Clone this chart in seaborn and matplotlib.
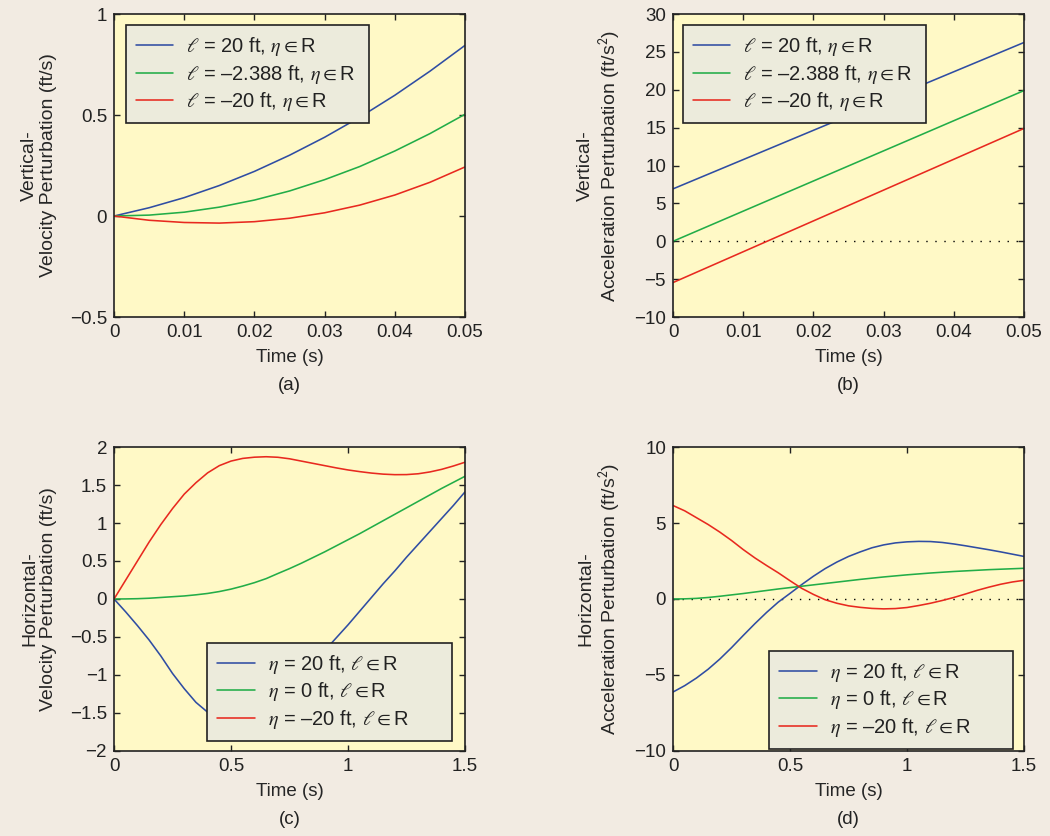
import numpy as np
import pandas as pd
import matplotlib
matplotlib.use("Agg")
import matplotlib.pyplot as plt
import seaborn as sns

# colours
FIG_BG = "#F2EBE2"
AX_BG = "#FFF9C6"
LEG_BG = "#ECEBDC"
LINE_COLORS = ["#2F4DA3", "#22AD48", "#E8291F"]

# (a) vertical velocity perturbation
time_a = [0, 0.005, 0.01, 0.015, 0.02, 0.025, 0.03, 0.035, 0.04, 0.045, 0.05]
vert_vel_pos = [0, 0.041, 0.091, 0.151, 0.221, 0.301, 0.390, 0.489, 0.598, 0.717, 0.845]
vert_vel_mid = [0, 0.0045, 0.019, 0.044, 0.079, 0.124, 0.180, 0.245, 0.322, 0.408, 0.504]
vert_vel_neg = [0, -0.021, -0.032, -0.035, -0.028, -0.011, 0.016, 0.054, 0.104, 0.167, 0.243]

# (b) vertical acceleration perturbation (straight lines)
time_b = [0, 0.05]
vert_acc_pos = [6.92, 26.25]
vert_acc_mid = [0.0, 19.9]
vert_acc_neg = [-5.45, 14.9]

# (c), (d) horizontal perturbations
time_cd = [0, 0.05, 0.1, 0.15, 0.2, 0.25, 0.3, 0.35, 0.4, 0.45, 0.5,
           0.55, 0.6, 0.65, 0.7, 0.75, 0.8, 0.85, 0.9, 0.95, 1.0,
           1.05, 1.1, 1.15, 1.2, 1.25, 1.3, 1.35, 1.4, 1.45, 1.5]
horiz_vel_pos = [0, -0.17, -0.35, -0.54, -0.75, -0.98, -1.18, -1.36, -1.49, -1.56, -1.58,
                 -1.55, -1.47, -1.37, -1.25, -1.12, -0.98, -0.83, -0.68, -0.51, -0.34,
                 -0.16, 0.02, 0.20, 0.37, 0.55, 0.72, 0.89, 1.06, 1.23, 1.41]
horiz_vel_mid = [0, 0.001, 0.004, 0.01, 0.02, 0.03, 0.04, 0.055, 0.073, 0.098, 0.13,
                 0.17, 0.215, 0.268, 0.335, 0.40, 0.47, 0.545, 0.62, 0.70, 0.78,
                 0.86, 0.945, 1.03, 1.115, 1.20, 1.285, 1.37, 1.455, 1.535, 1.615]
horiz_vel_neg = [0, 0.25, 0.5, 0.75, 0.98, 1.19, 1.38, 1.53, 1.66, 1.755, 1.815,
                 1.85, 1.866, 1.872, 1.865, 1.845, 1.815, 1.785, 1.755, 1.725, 1.698,
                 1.676, 1.657, 1.643, 1.636, 1.637, 1.648, 1.672, 1.706, 1.75, 1.80]

horiz_acc_pos = [-6.12, -5.7, -5.2, -4.62, -3.95, -3.2, -2.4, -1.62, -0.88, -0.2, 0.37,
                 0.95, 1.5, 2.0, 2.43, 2.8, 3.1, 3.37, 3.56, 3.69, 3.76,
                 3.79, 3.78, 3.72, 3.62, 3.5, 3.37, 3.24, 3.1, 2.95, 2.8]
horiz_acc_mid = [0, 0.01, 0.04, 0.1, 0.18, 0.27, 0.36, 0.46, 0.56, 0.66, 0.75,
                 0.84, 0.93, 1.02, 1.11, 1.2, 1.29, 1.37, 1.45, 1.52, 1.59,
                 1.65, 1.71, 1.76, 1.81, 1.85, 1.89, 1.93, 1.96, 1.99, 2.02]
horiz_acc_neg = [6.15, 5.8, 5.35, 4.9, 4.4, 3.85, 3.25, 2.7, 2.2, 1.72, 1.2,
                 0.7, 0.3, -0.05, -0.28, -0.45, -0.55, -0.62, -0.65, -0.63, -0.56,
                 -0.43, -0.28, -0.1, 0.1, 0.33, 0.57, 0.78, 0.97, 1.12, 1.23]

vert_labels = [r"$\ell$ = 20 ft, $\eta\in$R",
               r"$\ell$ = –2.388 ft, $\eta\in$R",
               r"$\ell$ = –20 ft, $\eta\in$R"]
horiz_labels = [r"$\eta$ = 20 ft, $\ell\in$R",
                r"$\eta$ = 0 ft, $\ell\in$R",
                r"$\eta$ = –20 ft, $\ell\in$R"]

sns.set_style("ticks")
plt.rcParams["font.family"] = ["Liberation Sans", "DejaVu Sans"]
plt.rcParams["mathtext.fontset"] = "stix"
plt.rcParams["font.size"] = 13.5
plt.rcParams["text.color"] = "#222222"


def long_frame(t, series, labels):
    parts = [pd.DataFrame({"t": t, "value": s, "series": lab}) for s, lab in zip(series, labels)]
    return pd.concat(parts, ignore_index=True)


def draw_panel(ax, df, labels, xticks, xticklabels, yticks, yticklabels,
               ylabel, ylabel_x, tag, legend_loc, legend_box, zero_line=False):
    ax.set_facecolor(AX_BG)
    if zero_line:
        ax.axhline(0, color="black", lw=1.0, ls=(0, (1, 5.5)), zorder=1)
    sns.lineplot(data=df, x="t", y="value", hue="series", hue_order=labels,
                 palette=LINE_COLORS, lw=1.15, sort=False, estimator=None, ax=ax)
    ax.set_xlim(xticks[0], xticks[-1])
    ax.set_ylim(yticks[0], yticks[-1])
    ax.set_xticks(xticks)
    ax.set_xticklabels(xticklabels)
    ax.set_yticks(yticks)
    ax.set_yticklabels(yticklabels)
    ax.tick_params(direction="in", length=4, width=1, top=True, right=True,
                   labelsize=13.5, colors="#222222", pad=5)
    for sp in ax.spines.values():
        sp.set_visible(True)
        sp.set_linewidth(1.2)
        sp.set_color("#222222")

    ax.set_xlabel("Time (s)", fontsize=13.5)
    ax.xaxis.set_label_coords(0.5, -0.105)
    ax.set_ylabel(ylabel, fontsize=14, linespacing=1.15)
    ax.yaxis.set_label_coords(ylabel_x, 0.5)
    ax.text(0.5, -0.226, tag, transform=ax.transAxes, ha="center", va="center", fontsize=13.5)

    handles, labs = ax.get_legend_handles_labels()
    leg = ax.legend(handles, labs, loc=legend_loc, bbox_to_anchor=legend_box,
                    mode="expand", borderaxespad=0, frameon=True, fancybox=False,
                    fontsize=14.5, labelspacing=0.22, handlelength=1.85,
                    handletextpad=0.65, borderpad=0.5, framealpha=1)
    leg.get_frame().set_facecolor(LEG_BG)
    leg.get_frame().set_edgecolor("#222222")
    leg.get_frame().set_linewidth(1.2)


fig = plt.figure(figsize=(10.5, 8.36), dpi=100)
fig.patch.set_facecolor(FIG_BG)

ax_a = fig.add_axes([0.1086, 0.6208, 0.3343, 0.3624])
ax_b = fig.add_axes([0.6410, 0.6208, 0.3343, 0.3624])
ax_c = fig.add_axes([0.1086, 0.1017, 0.3343, 0.3636])
ax_d = fig.add_axes([0.6410, 0.1017, 0.3343, 0.3636])

t_ticks_small = [0, 0.01, 0.02, 0.03, 0.04, 0.05]
t_labels_small = ["0", "0.01", "0.02", "0.03", "0.04", "0.05"]
t_ticks_long = [0, 0.5, 1, 1.5]
t_labels_long = ["0", "0.5", "1", "1.5"]

draw_panel(ax_a, long_frame(time_a, [vert_vel_pos, vert_vel_mid, vert_vel_neg], vert_labels),
           vert_labels, t_ticks_small, t_labels_small,
           [-0.5, 0, 0.5, 1], ["\u22120.5", "0", "0.5", "1"],
           "Vertical-\nVelocity Perturbation (ft/s)", -0.162, "(a)",
           "upper left", (0.034, 0.0, 0.692, 0.9636))

draw_panel(ax_b, long_frame(time_b, [vert_acc_pos, vert_acc_mid, vert_acc_neg], vert_labels),
           vert_labels, t_ticks_small, t_labels_small,
           [-10, -5, 0, 5, 10, 15, 20, 25, 30],
           ["\u221210", "\u22125", "0", "5", "10", "15", "20", "25", "30"],
           "Vertical-\nAcceleration Perturbation (ft/s$^\\mathsf{2}$)", -0.142, "(b)",
           "upper left", (0.0285, 0.0, 0.692, 0.9636), zero_line=True)

draw_panel(ax_c, long_frame(time_cd, [horiz_vel_pos, horiz_vel_mid, horiz_vel_neg], horiz_labels),
           horiz_labels, t_ticks_long, t_labels_long,
           [-2, -1.5, -1, -0.5, 0, 0.5, 1, 1.5, 2],
           ["\u22122", "\u22121.5", "\u22121", "\u22120.5", "0", "0.5", "1", "1.5", "2"],
           "Horizontal-\nVelocity Perturbation (ft/s)", -0.162, "(c)",
           "lower left", (0.266, 0.033, 0.697, 0.9))

draw_panel(ax_d, long_frame(time_cd, [horiz_acc_pos, horiz_acc_mid, horiz_acc_neg], horiz_labels),
           horiz_labels, t_ticks_long, t_labels_long,
           [-10, -5, 0, 5, 10], ["\u221210", "\u22125", "0", "5", "10"],
           "Horizontal-\nAcceleration Perturbation (ft/s$^\\mathsf{2}$)", -0.142, "(d)",
           "lower left", (0.274, 0.007, 0.694, 0.9), zero_line=True)

fig.savefig("out.png", dpi=100, facecolor=fig.get_facecolor())
